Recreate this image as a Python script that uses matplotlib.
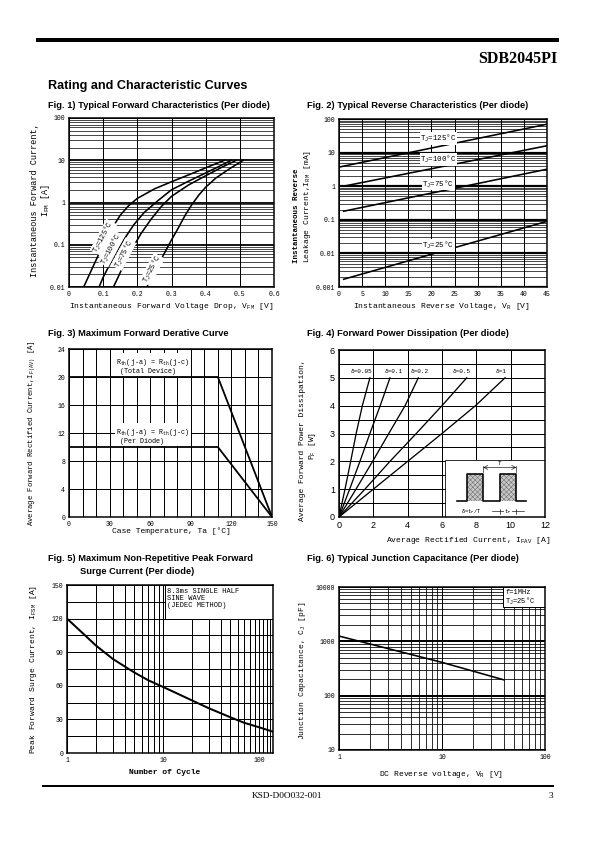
import matplotlib
matplotlib.use('Agg')
import matplotlib.pyplot as plt
import numpy as np
from matplotlib.lines import Line2D
from matplotlib.patches import Rectangle, Polygon
from matplotlib.ticker import FixedLocator, NullFormatter

# ---------------- data ----------------
# Fig 1 forward characteristics (V, A)
f1_v125 = [0.043, 0.07, 0.10, 0.125, 0.15, 0.175, 0.20, 0.25, 0.30, 0.35, 0.40, 0.455]
f1_i125 = [0.01, 0.03, 0.10, 0.24, 0.50, 0.85, 1.25, 2.1, 3.1, 4.5, 6.6, 10]
f1_v100 = [0.088, 0.10, 0.12, 0.14, 0.165, 0.19, 0.22, 0.26, 0.30, 0.35, 0.40, 0.44, 0.475]
f1_i100 = [0.01, 0.017, 0.035, 0.07, 0.15, 0.30, 0.58, 1.1, 2.0, 3.2, 5.0, 7.2, 10]
f1_v75 = [0.13, 0.145, 0.165, 0.185, 0.21, 0.24, 0.27, 0.30, 0.35, 0.40, 0.45, 0.49]
f1_i75 = [0.01, 0.018, 0.04, 0.08, 0.18, 0.40, 0.80, 1.4, 2.6, 4.3, 7.0, 10]
f1_v25 = [0.228, 0.24, 0.26, 0.28, 0.30, 0.32, 0.34, 0.36, 0.38, 0.40, 0.43, 0.47, 0.51]
f1_i25 = [0.01, 0.015, 0.032, 0.065, 0.13, 0.25, 0.50, 0.90, 1.5, 2.3, 3.8, 6.3, 10]
f1_labels = ["T$_J$=125°C", "T$_J$=100°C", "T$_J$=75°C", "T$_J$=25°C"]

# Fig 2 reverse characteristics (V, mA)
f2_v = [[0, 45], [1, 45], [1, 45], [1, 45]]
f2_i = [[3.7, 70], [1.0, 16], [0.18, 3.2], [0.0017, 0.09]]
f2_labels = ["T$_J$=125°C", "T$_J$=100°C", "T$_J$=75°C", "T$_J$=25°C"]
f2_label_y = [26, 6.2, 1.15, 0.017]

# Fig 3 derating
f3_t = [0, 110, 150]
f3_total = [20, 20, 0]
f3_diode = [10, 10, 0]

# Fig 4 power dissipation (A, W)
f4_p = [0, 1, 2, 3, 4, 5]
f4_i = {
    "0.05": [0, 0.35, 0.68, 1.0, 1.36, 1.8],
    "0.1": [0, 0.62, 1.22, 1.8, 2.4, 2.97],
    "0.2": [0, 0.99, 1.96, 2.9, 3.85, 4.62],
    "0.5": [0, 1.51, 2.97, 4.5, 6.0, 7.44],
    "1": [0, 2.0, 4.0, 6.0, 7.95, 9.67],
}

# Fig 5 surge current
f5_n = [1, 1.5, 2, 3, 5, 7, 10, 15, 20, 30, 50, 70, 100, 140]
f5_i = [120, 106, 96, 84, 72, 65, 59, 52, 47, 40, 32, 27, 23, 19]

# Fig 6 junction capacitance
f6_v = [1, 10, 40]
f6_c = [1250, 410, 195]

# ---------------- page ----------------
W, H = 595, 842
MONO = 'Liberation Mono'
SANS = 'Liberation Sans'
SERIF = 'Liberation Serif'
plt.rcParams['font.family'] = [MONO, 'DejaVu Sans']
plt.rcParams['mathtext.fontset'] = 'custom'
plt.rcParams['mathtext.rm'] = MONO
plt.rcParams['mathtext.it'] = MONO
plt.rcParams['mathtext.bf'] = MONO + ':bold'
plt.rcParams['hatch.linewidth'] = 0.6

fig = plt.figure(figsize=(W / 72, H / 72), dpi=72)


def add_ax(x0, y0, x1, y1):
    return fig.add_axes([x0 / W, 1 - y1 / H, (x1 - x0) / W, (y1 - y0) / H])


def ftext(x, y, s, **kw):
    fig.text(x / W, 1 - y / H, s, **kw)


def hline(x0, x1, y, lw):
    fig.add_artist(Line2D([x0 / W, x1 / W], [1 - y / H, 1 - y / H], lw=lw, color='k'))


def style(ax, tsize=6.5, tfam=MONO):
    for s in ax.spines.values():
        s.set_linewidth(1.5)
    ax.tick_params(which='both', length=0, pad=4, labelsize=tsize)
    for lab in ax.get_xticklabels() + ax.get_yticklabels():
        lab.set_family(tfam)
    ax.set_axisbelow(True)


hline(38, 557, 40, 4)
ftext(557, 63, "SDB2045PI", ha='right', va='baseline', fontsize=16, family=SERIF, weight='bold')
ftext(48, 89, "Rating and Characteristic Curves", ha='left', va='baseline', fontsize=12.6, family=SANS, weight='bold')

tkw = dict(ha='left', va='baseline', fontsize=9.2, family=SANS, weight='bold')
ftext(48, 108, "Fig. 1) Typical Forward Characteristics (Per diode)", **tkw)
ftext(307, 108, "Fig. 2) Typical Reverse Characteristics (Per diode)", **tkw)
ftext(48, 336, "Fig. 3) Maximum Forward Derative Curve", **tkw)
ftext(307, 336, "Fig. 4) Forward Power Dissipation (Per diode)", **tkw)
ftext(48, 561, "Fig. 5) Maximum Non-Repetitive Peak Forward", **tkw)
ftext(80, 574, "Surge Current (Per diode)", **tkw)
ftext(307, 561, "Fig. 6) Typical Junction Capacitance (Per diode)", **tkw)

hline(43, 553, 786, 2)
ftext(252, 798, "KSD-D0O032-001", ha='left', va='baseline', fontsize=9.2, family=SERIF)
ftext(553, 798, "3", ha='right', va='baseline', fontsize=9.2, family=SERIF)

LKW = dict(fontsize=8, family=MONO)
white = dict(facecolor='white', edgecolor='none', pad=0.6)

# ---------------- Fig 1 ----------------
ax1 = add_ax(69, 118, 274, 287)
ax1.set_yscale('log')
ax1.set_xlim(0, 0.6)
ax1.set_ylim(0.01, 100)
ax1.set_xticks([0, 0.1, 0.2, 0.3, 0.4, 0.5, 0.6], labels=["0", "0.1", "0.2", "0.3", "0.4", "0.5", "0.6"])
ax1.set_yticks([0.01, 0.1, 1, 10, 100], labels=["0.01", "0.1", "1", "10", "100"])
ax1.yaxis.set_minor_locator(FixedLocator([m * d for d in [0.01, 0.1, 1, 10] for m in range(2, 10)]))
ax1.yaxis.set_minor_formatter(NullFormatter())
ax1.grid(which='major', axis='both', color='k', lw=1.0)
ax1.grid(which='major', axis='y', color='k', lw=1.8)
ax1.grid(which='minor', axis='y', color='k', lw=0.7)
for v, i in [(f1_v125, f1_i125), (f1_v100, f1_i100), (f1_v75, f1_i75), (f1_v25, f1_i25)]:
    ax1.plot(v, i, color='k', lw=1.6)
for (x, y), s in zip([(0.101, 0.15), (0.123, 0.08), (0.16, 0.06), (0.243, 0.026)], f1_labels):
    ax1.text(x, y, s, rotation=62, ha='center', va='center', fontsize=7, bbox=white)
style(ax1)
ftext(41, 200, "Instantaneous Forward Current,\nI$_{FM}$ [A]", rotation=90, ha='center', va='center',
      multialignment='center', linespacing=1.1, fontsize=8.5, family=MONO)
ftext(171, 307, "Instantaneous Forward Voltage Drop, V$_{FM}$ [V]", ha='center', va='center', **LKW)

# ---------------- Fig 2 ----------------
ax2 = add_ax(339, 119, 547, 287)
ax2.set_yscale('log')
ax2.set_xlim(0, 45)
ax2.set_ylim(0.001, 100)
ax2.set_xticks(list(range(0, 46, 5)), labels=[str(v) for v in range(0, 46, 5)])
ax2.set_yticks([0.001, 0.01, 0.1, 1, 10, 100], labels=["0.001", "0.01", "0.1", "1", "10", "100"])
ax2.yaxis.set_minor_locator(FixedLocator([m * d for d in [0.001, 0.01, 0.1, 1, 10] for m in range(2, 10)]))
ax2.yaxis.set_minor_formatter(NullFormatter())
ax2.grid(which='major', axis='x', color='k', lw=1.0)
ax2.grid(which='major', axis='y', color='k', lw=2.2)
ax2.grid(which='minor', axis='y', color='k', lw=0.7)
for v, i in zip(f2_v, f2_i):
    ax2.plot(v, i, color='k', lw=1.6)
for y, s in zip(f2_label_y, f2_labels):
    ax2.text(21.5, y, s, ha='center', va='center', fontsize=7.5, bbox=white)
style(ax2)
ftext(297, 263, "Instantaneous Reverse", rotation=90, ha='center', va='bottom', fontsize=7.5, family=MONO, weight='bold')
ftext(307, 263, "Leakage Current,I$_{RM}$ [mA]", rotation=90, ha='center', va='bottom', **LKW)
ftext(441, 307, "Instantaneous Reverse Voltage, V$_R$ [V]", ha='center', va='center', **LKW)

# ---------------- Fig 3 ----------------
ax3 = add_ax(69, 349, 272, 517)
ax3.set_xlim(0, 150)
ax3.set_ylim(0, 24)
ax3.set_xticks([0, 30, 60, 90, 120, 150], labels=["0", "30", "60", "90", "120", "150"])
ax3.set_yticks([0, 4, 8, 12, 16, 20, 24], labels=["0", "4", "8", "12", "16", "20", "24"])
ax3.xaxis.set_minor_locator(FixedLocator(list(range(10, 150, 10))))
ax3.grid(which='both', axis='x', color='k', lw=1.0)
ax3.grid(which='major', axis='y', color='k', lw=1.0)
ax3.plot(f3_t, f3_total, color='k', lw=1.8)
ax3.plot(f3_t, f3_diode, color='k', lw=1.8)
ax3.text(62, 21.6, "R$_{th}$(j-a) = R$_{th}$(j-c)\n (Total Device)", ha='center', va='center',
         multialignment='left', fontsize=6.8, linespacing=1.0, bbox=dict(facecolor='white', edgecolor='none', pad=1.5))
ax3.text(62, 11.6, "R$_{th}$(j-a) = R$_{th}$(j-c)\n (Per Diode)", ha='center', va='center',
         multialignment='left', fontsize=6.8, linespacing=1.0, bbox=dict(facecolor='white', edgecolor='none', pad=1.5))
style(ax3)
ftext(32, 433, "Average Forward Rectified Current,I$_{F(AV)}$ [A]", rotation=90, ha='center', va='center',
      fontsize=7.3, family=MONO)
ftext(171, 531, "Case Temperature, Ta [°C]", ha='center', va='center', **LKW)

# ---------------- Fig 4 ----------------
ax4 = add_ax(339, 350, 545, 517)
ax4.set_xlim(0, 12)
ax4.set_ylim(0, 6)
ax4.set_xticks([0, 2, 4, 6, 8, 10, 12], labels=["0", "2", "4", "6", "8", "10", "12"])
ax4.set_yticks([0, 1, 2, 3, 4, 5, 6], labels=["0", "1", "2", "3", "4", "5", "6"])
ax4.yaxis.set_minor_locator(FixedLocator([0.5, 1.5, 2.5, 3.5, 4.5, 5.5]))
ax4.grid(which='major', axis='x', color='k', lw=1.0)
ax4.grid(which='both', axis='y', color='k', lw=1.0)
lab_x = {"0.05": 1.3, "0.1": 3.2, "0.2": 4.7, "0.5": 7.15, "1": 9.45}
for k, xs in f4_i.items():
    ax4.plot(xs, f4_p, color='k', lw=1.3, zorder=3)
    ax4.text(lab_x[k], 5.15, "δ=" + k, ha='center', va='bottom', fontsize=6,
             bbox=dict(facecolor='white', edgecolor='none', pad=0.3), zorder=4)
ax4.add_patch(Rectangle((6.2, 0), 5.8, 2.05, facecolor='white', edgecolor='k', lw=0.8, zorder=2.5))
ax4.plot([6.85, 7.45, 7.45, 8.4, 8.4, 9.35, 9.35, 10.33, 10.33, 10.9],
         [0.56, 0.56, 1.55, 1.55, 0.56, 0.56, 1.55, 1.55, 0.56, 0.56], color='k', lw=1.6, zorder=3)
for xa, xb in [(7.45, 8.4), (9.35, 10.33)]:
    ax4.add_patch(Polygon([(xa, 0.56), (xa, 1.55), (xb, 1.55), (xb, 0.56)], closed=True,
                          facecolor='#c8c8c8', edgecolor='#777777', hatch='xxxxx', lw=0, zorder=2.8))
ax4.annotate("", xy=(8.4, 1.78), xytext=(10.33, 1.78),
             arrowprops=dict(arrowstyle='<->', lw=0.6, shrinkA=0, shrinkB=0), zorder=3)
ax4.plot([8.4, 8.4], [1.6, 1.85], color='k', lw=0.6, zorder=3)
ax4.plot([10.33, 10.33], [1.6, 1.85], color='k', lw=0.6, zorder=3)
ax4.text(9.37, 1.82, "T", ha='center', va='bottom', fontsize=6, zorder=3)
ax4.text(7.7, 0.2, "δ=t$_P$/T", ha='center', va='center', fontsize=5.5, zorder=3)
ax4.plot([8.9, 10.8], [0.2, 0.2], color='k', lw=0.6, zorder=3)
ax4.plot([9.35, 9.35], [0.12, 0.28], color='k', lw=0.6, zorder=3)
ax4.plot([10.33, 10.33], [0.12, 0.28], color='k', lw=0.6, zorder=3)
ax4.text(9.84, 0.2, "t$_P$", ha='center', va='center', fontsize=5.5,
         bbox=dict(facecolor='white', edgecolor='none', pad=0.2), zorder=3.5)
style(ax4, tsize=9, tfam=SANS)
ftext(302, 521, "Average Forward Power Dissipation,", rotation=90, ha='center', va='bottom', **LKW)
ftext(313, 446, "P$_F$ [W]", rotation=90, ha='center', va='center', **LKW)
ftext(468, 541, "Average Rectified Current, I$_{FAV}$ [A]", ha='center', va='center', **LKW)

# ---------------- Fig 5 ----------------
ax5 = add_ax(67, 585, 273, 753)
ax5.set_xscale('log')
ax5.set_xlim(1, 140)
ax5.set_ylim(0, 150)
ax5.set_xticks([1, 10, 100], labels=["1", "10", "100"])
ax5.xaxis.set_minor_locator(FixedLocator([m for m in range(2, 10)] + [m * 10 for m in range(2, 10)] + [110, 120, 130]))
ax5.xaxis.set_minor_formatter(NullFormatter())
ax5.set_yticks([0, 30, 60, 90, 120, 150], labels=["0", "30", "60", "90", "120", "150"])
ax5.yaxis.set_minor_locator(FixedLocator([15, 45, 75, 105, 135]))
ax5.grid(which='both', color='k', lw=1.0)
ax5.plot(f5_n, f5_i, color='k', lw=2.0, zorder=3)
ax5.add_patch(Rectangle((10.5, 120), 129.5, 30, facecolor='white', edgecolor='k', lw=1.0, zorder=2.5))
ax5.text(11.0, 147, "8.3ms SINGLE HALF\nSINE WAVE\n(JEDEC METHOD)", ha='left', va='top', fontsize=7,
         linespacing=1.0, zorder=3)
style(ax5)
ftext(34, 669, "Peak Forward Surge Current, I$_{FSM}$ [A]", rotation=90, ha='center', va='center', **LKW)
ftext(165, 772, "Number of Cycle", ha='center', va='center', fontsize=8, family=MONO, weight='bold')

# ---------------- Fig 6 ----------------
ax6 = add_ax(339, 587, 545, 750)
ax6.set_xscale('log')
ax6.set_yscale('log')
ax6.set_xlim(1, 100)
ax6.set_ylim(10, 10000)
ax6.set_xticks([1, 10, 100], labels=["1", "10", "100"])
ax6.set_yticks([10, 100, 1000, 10000], labels=["10", "100", "1000", "10000"])
ax6.xaxis.set_minor_locator(FixedLocator([m * d for d in [1, 10] for m in range(2, 10)]))
ax6.yaxis.set_minor_locator(FixedLocator([m * d for d in [10, 100, 1000] for m in range(2, 10)]))
ax6.xaxis.set_minor_formatter(NullFormatter())
ax6.yaxis.set_minor_formatter(NullFormatter())
ax6.grid(which='major', axis='x', color='k', lw=1.0)
ax6.grid(which='major', axis='y', color='k', lw=2.0)
ax6.grid(which='minor', color='k', lw=0.8)
ax6.plot(f6_v, f6_c, color='k', lw=1.6, zorder=3)
ax6.add_patch(Rectangle((39, 4300), 61, 5700, facecolor='white', edgecolor='k', lw=1.0, zorder=2.5))
ax6.text(41, 9300, "f=1MHz\nT$_J$=25°C", ha='left', va='top', fontsize=7, linespacing=1.0, zorder=3)
style(ax6)
ftext(302, 671, "Junction Capacitance, C$_J$ [pF]", rotation=90, ha='center', va='center', **LKW)
ftext(441, 775, "DC Reverse voltage, V$_R$ [V]", ha='center', va='center', **LKW)

fig.savefig('out.png', dpi=72)
